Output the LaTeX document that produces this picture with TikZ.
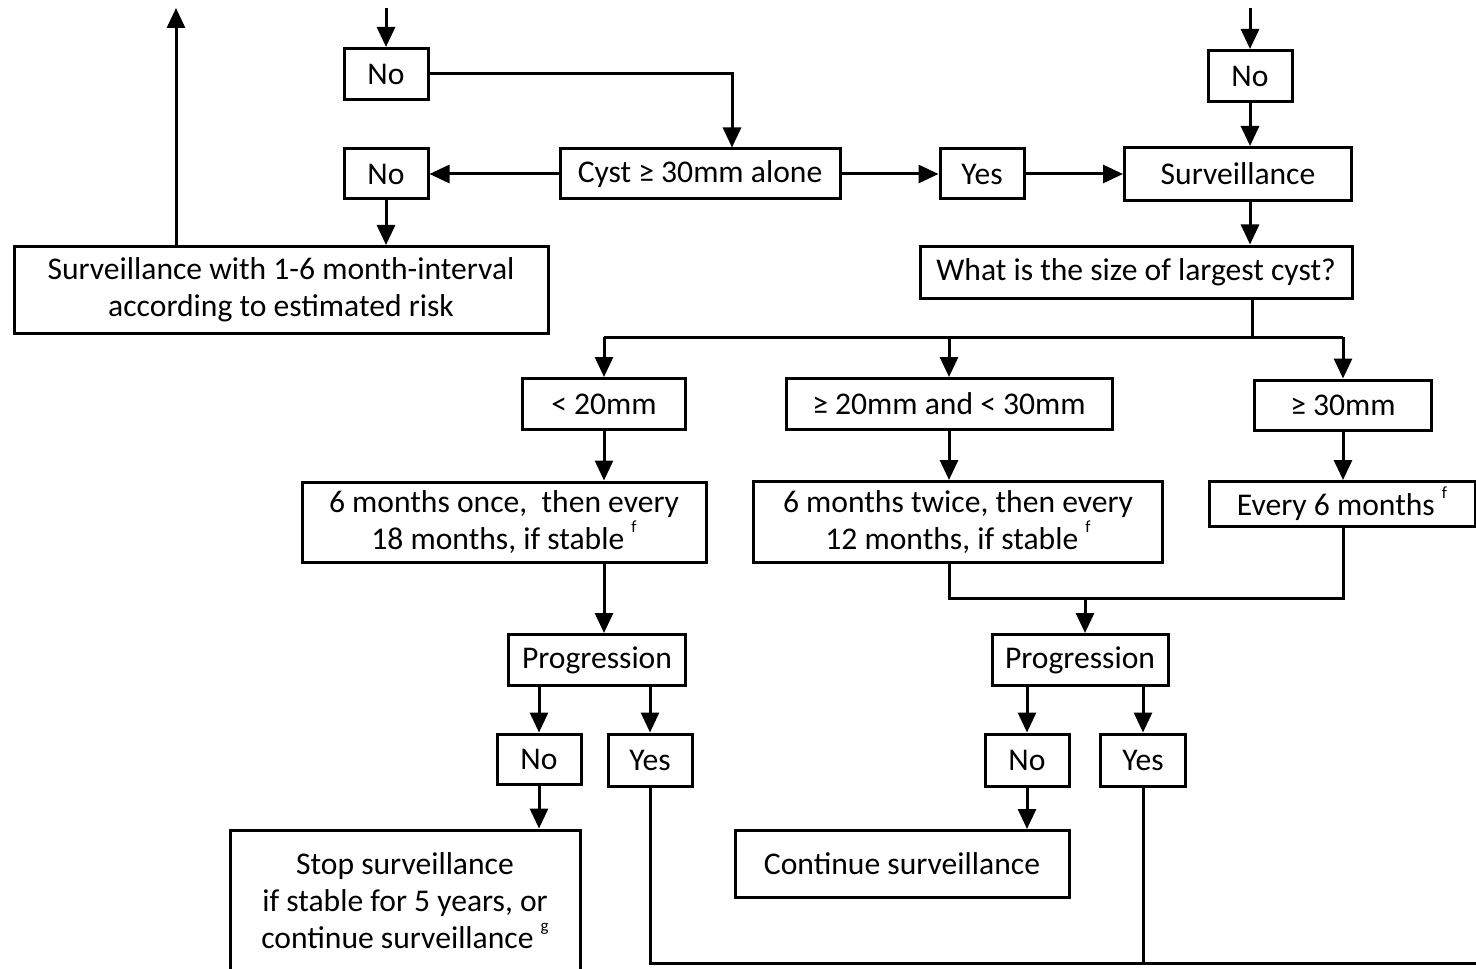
\documentclass[tikz,border=0pt]{standalone}
\usepackage{fontspec}
\setmainfont{Carlito}
\usetikzlibrary{arrows.meta}
\begin{document}
\begin{tikzpicture}[x=0.5pt,y=-0.5pt,line join=miter,>={Triangle[length=10pt,width=9pt]},line width=1.5pt]
\tikzset{box/.style={draw,inner sep=0pt,align=center,font=\fontsize{15.8}{18.5}\selectfont},
  arr/.style={->},
  every node/.style={line width=1.5pt}}
\newcommand{\sps}[1]{\raisebox{0.55em}{\fontsize{8.5}{8.5}\selectfont #1}}
\useasboundingbox (0,0) rectangle (1476,968);
\clip (0,0) rectangle (1476,968);
% top row
\node[box,minimum width=42pt,minimum height=25.5pt] (no1) at (386,74) {No};
\node[box,minimum width=42pt,minimum height=25pt] (no2) at (386,174) {No};
\node[box,minimum width=140pt,minimum height=25pt] (cyst) at (700,174) {Cyst ≥ 30mm alone};
\node[box,minimum width=42pt,minimum height=25pt] (yes1) at (982,174) {Yes};
\node[box,minimum width=42pt,minimum height=25.5pt] (no3) at (1250,76) {No};
\node[box,minimum width=113.5pt,minimum height=26.5pt] (surv) at (1238,174) {Surveillance};
\node[box,minimum width=267pt,minimum height=43.5pt] (surv1) at (281,290) {Surveillance with 1-6 month-interval\\according to estimated risk};
\node[box,minimum width=216pt,minimum height=26pt] (what) at (1136,272) {What is the size of largest cyst?};
% sizes
\node[box,minimum width=81.5pt,minimum height=25.5pt] (lt20) at (604,404) {< 20mm};
\node[box,minimum width=163pt,minimum height=25.5pt] (mid) at (949,404) {≥ 20mm and < 30mm};
\node[box,minimum width=88.5pt,minimum height=25pt] (ge30) at (1343,405) {≥ 30mm};
\node[box,minimum width=202pt,minimum height=40pt] (once) at (504,522) {6 months once,~ then every\\18 months, if stable \sps{f}};
\node[box,minimum width=204.5pt,minimum height=40.5pt] (twice) at (958,522) {6 months twice, then every\\12 months, if stable \sps{f}};
\node[box,minimum width=133pt,minimum height=22.5pt] (every) at (1342,504) {Every 6 months \sps{f}};
% progression
\node[box,minimum width=88.5pt,minimum height=25.5pt] (prog1) at (597,660) {Progression};
\node[box,minimum width=88pt,minimum height=25.5pt] (prog2) at (1080,660) {Progression};
\node[box,minimum width=42pt,minimum height=25pt] (no4) at (539,759) {No};
\node[box,minimum width=42pt,minimum height=26pt] (yes4) at (650,760) {Yes};
\node[box,minimum width=42pt,minimum height=26pt] (no5) at (1027,760) {No};
\node[box,minimum width=42.5pt,minimum height=26pt] (yes5) at (1143,760) {Yes};
\node[box,minimum width=175pt,minimum height=71pt] (stop) at (405,901) {Stop surveillance\\if stable for 5 years, or\\continue surveillance \sps{g}};
\node[box,minimum width=167pt,minimum height=33.5pt] (cont) at (902,864) {Continue surveillance};
% connectors
\coordinate (top) at (0,8);
\coordinate (up) at (176,8);
\coordinate (br) at (1252,337);
\coordinate (jn) at (1085,598);
\coordinate (out) at (1490,963);
\draw[arr] (no1.north |- top) -- (no1.north);
\draw[arr] (no1.east) -| ([xshift=16pt]cyst.north);
\draw[arr] (cyst.west) -- (no2.east);
\draw[arr] (no2.south) -- (no2.south |- surv1.north);
\draw[arr] (up |- surv1.north) -- (up);
\draw[arr] (cyst.east) -- (yes1.west);
\draw[arr] (yes1.east) -- (surv.west);
\draw[arr] (no3.north |- top) -- (no3.north);
\draw[arr] (no3.south) -- (no3.south |- surv.north);
\draw[arr] (no3.south |- surv.south) -- (no3.south |- what.north);
\draw (br |- what.south) -- (br);
\draw (lt20.north |- br) -- (ge30.north |- br);
\foreach \n in {lt20,mid,ge30}
  \draw[arr] (\n.north |- br) -- (\n.north);
\foreach \a/\b in {lt20/once,mid/twice,ge30/every}
  \draw[arr] (\a.south) -- (\a.south |- \b.north);
\draw[arr] (lt20.south |- once.south) -- (lt20.south |- prog1.north);
\draw (mid.south |- twice.south) |- (ge30.south |- jn) -- (ge30.south |- every.south);
\draw[arr] (jn) -- (jn |- prog2.north);
\draw[arr] (no4.north |- prog1.south) -- (no4.north);
\draw[arr] (yes4.north |- prog1.south) -- (yes4.north);
\draw[arr] (no5.north |- prog2.south) -- (no5.north);
\draw[arr] (yes5.north |- prog2.south) -- (yes5.north);
\draw[arr] (no4.south) -- (no4.south |- stop.north);
\draw[arr] (no5.south) -- (no5.south |- cont.north);
\draw (yes4.south) |- (out);
\draw (yes5.south) -- (yes5.south |- out);
\end{tikzpicture}
\end{document}
